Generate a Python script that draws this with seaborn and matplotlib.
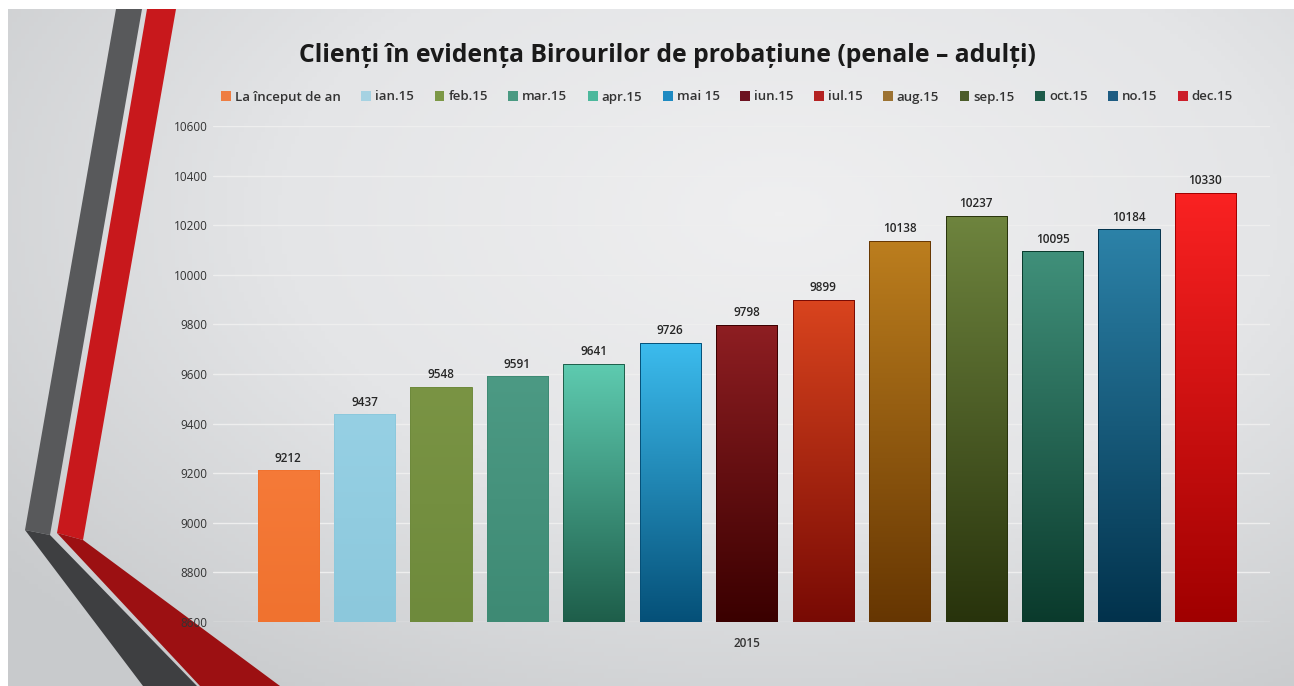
import numpy as np
import pandas as pd
import matplotlib
matplotlib.use("Agg")
import matplotlib.pyplot as plt
from matplotlib.colors import LinearSegmentedColormap
from matplotlib.patches import Polygon, Patch
import seaborn as sns

## data
year = "2015"
series = ["La început de an", "ian.15", "feb.15", "mar.15", "apr.15", "mai 15", "iun.15",
          "iul.15", "aug.15", "sep.15", "oct.15", "no.15", "dec.15"]
values = [9212, 9437, 9548, 9591, 9641, 9726, 9798, 9899, 10138, 10237, 10095, 10184, 10330]
yTicks = [8600, 8800, 9000, 9200, 9400, 9600, 9800, 10000, 10200, 10400, 10600]
title = "Clienți în evidența Birourilor de probațiune (penale – adulți)"

# colours: legend swatches, and top / bottom of each bar gradient
legendColors = ["#EE7D42", "#A6D2E2", "#7C9846", "#4A9A82", "#4CB89C", "#1E8AC2", "#6C1220",
                "#B42222", "#9C7232", "#4C5C2A", "#1E5C4A", "#1E5C82", "#CC1E2A"]
topColors = ["#F57A38", "#96D0E4", "#7A9444", "#4C9A84", "#5ECBB0", "#3CBCEE", "#8E1E22",
             "#D9441E", "#BC7E1E", "#6E843E", "#40907A", "#2C82A8", "#FA2222"]
bottomColors = ["#F0722F", "#8CC8DC", "#6E8A3C", "#3E8A74", "#1E5E4A", "#055078", "#3A0000",
                "#780A04", "#663602", "#28330C", "#0A3A2C", "#02324C", "#A00000"]

df = pd.DataFrame({"year": [year] * len(series), "serie": series, "value": values})

sns.set_theme(style="white")
plt.rcParams["font.family"] = ["Open Sans", "DejaVu Sans"]

W, H = 1294, 686
fig = plt.figure(figsize=(W / 100, H / 100), dpi=100, facecolor="white")

## slide background + the red/grey ribbons on the left
bg = fig.add_axes([0, 0, 1, 1], zorder=-5)
bg.axis("off")
gx, gy = np.meshgrid(np.linspace(0, 1, 300), np.linspace(0, 1, 160))
dist = np.sqrt(((gx - 0.6) * 1.0) ** 2 + ((gy - 0.3) * 0.9) ** 2)
bgCmap = LinearSegmentedColormap.from_list("slide", ["#EFEFF0", "#E4E5E7", "#C8CACC"])
bg.imshow(dist, cmap=bgCmap, extent=(8, W, H, 9), aspect="auto", vmin=0, vmax=0.78)
bg.add_patch(Polygon([(116, 9), (142, 9), (50, 535), (25, 530)], color="#58595B", lw=0))
bg.add_patch(Polygon([(147, 9), (176, 9), (83, 540), (57, 533)], color="#C8181C", lw=0))
bg.add_patch(Polygon([(25, 530), (50, 535), (197, 686), (143, 686)], color="#3E3F41", lw=0))
bg.add_patch(Polygon([(57, 533), (83, 540), (280, 686), (200, 686)], color="#9C1012", lw=0))
bg.set_xlim(0, W)
bg.set_ylim(H, 0)

## the chart
ax = fig.add_axes([213 / W, 64 / H, 1057 / W, 496 / H])
ax.patch.set_alpha(0)
sns.barplot(data=df, x="year", y="value", hue="serie", hue_order=series, palette=legendColors,
            width=0.94, gap=0.2, legend=False, ax=ax)

# vertical gradients clipped to each bar
for i, container in enumerate(ax.containers):
    cm = LinearSegmentedColormap.from_list("g%d" % i, [bottomColors[i], topColors[i]])
    for bar in container:
        x0 = bar.get_x()
        x1 = x0 + bar.get_width()
        top = bar.get_y() + bar.get_height()
        grad = np.linspace(0, 1, 256).reshape(-1, 1)
        im = ax.imshow(grad, cmap=cm, extent=(x0, x1, yTicks[0], top), origin="lower",
                       aspect="auto", zorder=2)
        im.set_clip_path(bar)
        bar.set_facecolor("none")
        bar.set_edgecolor(bottomColors[i])
        bar.set_linewidth(0.7)
        bar.set_zorder(3)
    ax.bar_label(container, padding=4, fontsize=8.5, fontweight="semibold", color="#262626")

ax.set_xlim(-0.505, 0.495)
ax.set_ylim(yTicks[0], yTicks[-1])
ax.set_yticks(yTicks)
ax.grid(axis="y", color="#EEEEEE", linewidth=1)
ax.set_axisbelow(True)
sns.despine(ax=ax, left=True, bottom=True)
ax.set_xlabel("")
ax.set_ylabel("")
ax.tick_params(axis="y", length=0, pad=4, labelsize=8.5, labelcolor="#333333")
ax.tick_params(axis="x", length=0, pad=11, labelsize=8.5, labelcolor="#333333")
for t in ax.get_xticklabels():
    t.set_fontweight("semibold")

fig.text(667 / W, 1 - 55 / H, title, ha="center", va="center", fontsize=17.8,
         fontweight="bold", color="#1A1A1A")

handles = [Patch(facecolor=c, edgecolor="none") for c in legendColors]
fig.legend(handles, series, loc="center", bbox_to_anchor=(727 / W, 1 - 97 / H), ncol=len(series),
           frameon=False, prop={"size": 9.5, "weight": "semibold"}, handlelength=0.75,
           handleheight=0.75, handletextpad=0.3, columnspacing=1.55, labelcolor="#333333")

fig.savefig("out.png", dpi=100, facecolor="white")
